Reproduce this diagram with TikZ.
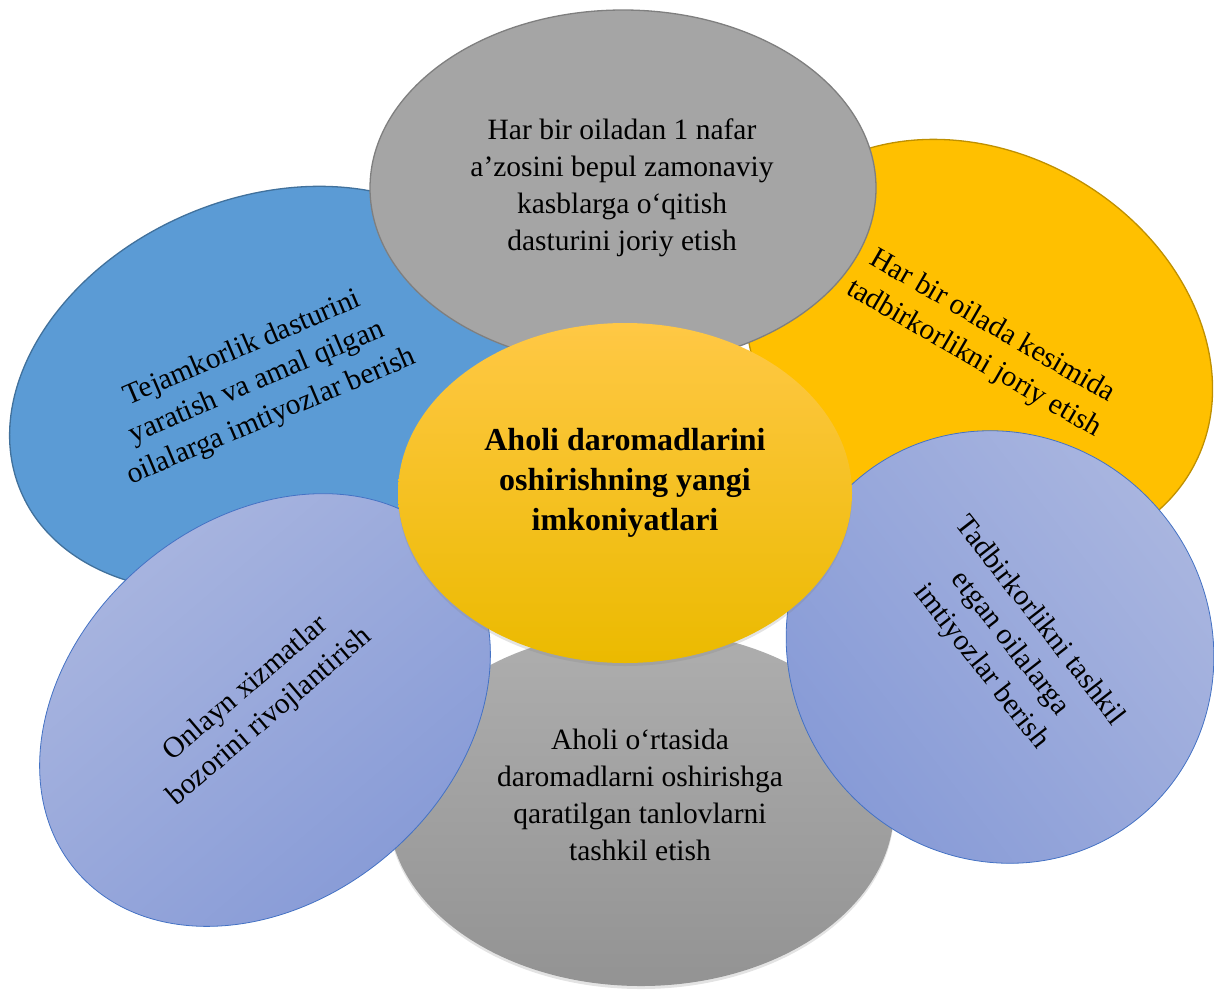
\documentclass[tikz,border=0pt]{standalone}
\usepackage{fontspec}
\setmainfont{Liberation Serif}
\usetikzlibrary{shapes.geometric,shadows}
\definecolor{blueL}{HTML}{5B9BD5}
\definecolor{blueLd}{HTML}{41719C}
\definecolor{orng}{HTML}{FFC000}
\definecolor{orngd}{HTML}{BF9000}
\definecolor{grayT}{HTML}{A5A5A5}
\definecolor{grayTd}{HTML}{7F7F7F}
\definecolor{grayBa}{HTML}{AEAEAE}
\definecolor{grayBb}{HTML}{939393}
\definecolor{lavA}{HTML}{ABB7E0}
\definecolor{lavB}{HTML}{8599D6}
\definecolor{lavD}{HTML}{4472C4}
\definecolor{ctrA}{HTML}{FFC845}
\definecolor{ctrB}{HTML}{EBBA00}
\begin{document}
\begin{tikzpicture}[x=1pt,y=-1pt,
  bubble/.style={ellipse, inner sep=0pt, outer sep=0pt},
  txt/.style={align=center, inner sep=0pt, font=\fontsize{29.5}{37}\selectfont},
  softshadow/.style={drop shadow={opacity=0.22, shadow xshift=0pt, shadow yshift=-3pt}}]
\useasboundingbox (0,0) rectangle (1214,989);

% left blue
\node[bubble, rotate=23, minimum width=524pt, minimum height=380pt,
      fill=blueL, draw=blueLd, line width=1.3pt] (lb) at (262,389) {};
\node[txt, rotate=23] (lbt) at (257,383) {Tejamkorlik dasturini\\yaratish va amal qilgan\\oilalarga imtiyozlar berish};

% right orange
\node[bubble, rotate=-30, minimum width=490pt, minimum height=390pt,
      fill=orng, draw=orngd, line width=1.3pt] (ro) at (979,348) {};
\node[txt, rotate=-30] (rot) at (983,343) {Har bir oilada kesimida\\tadbirkorlikni joriy etish};

% top gray
\node[bubble, minimum width=506pt, minimum height=356pt,
      fill=grayT, draw=grayTd, line width=1.3pt] (tg) at (623,188) {};
\node[txt] (tgt) at (622,188) {Har bir oiladan 1 nafar\\a’zosini bepul zamonaviy\\kasblarga o‘qitish\\dasturini joriy etish};

% bottom gray
\node[bubble, softshadow, minimum width=506pt, minimum height=356pt,
      top color=grayBa, bottom color=grayBb] (bg) at (641,808) {};
\node[txt] (bgt) at (640,795) {Aholi o‘rtasida\\daromadlarni oshirishga\\qaratilgan tanlovlarni\\tashkil etish};

% lower left lavender
\node[bubble, rotate=40.5, minimum width=496pt, minimum height=380pt,
      top color=lavA, bottom color=lavB, shading angle=40.5,
      draw=lavD, line width=0.8pt] (ll) at (265,710) {};
\node[txt, rotate=40.5] (llt) at (258,703) {Onlayn xizmatlar\\bozorini rivojlantirish};

% lower right lavender
\node[bubble, rotate=-52, minimum width=440pt, minimum height=420pt,
      top color=lavA, bottom color=lavB, shading angle=-52,
      draw=lavD, line width=0.8pt] (lr) at (1000,647) {};
\node[txt, rotate=-52] (lrt) at (1010,644) {Tadbirkorlikni tashkil\\etgan oilalarga\\imtiyozlar berish};

% centre
\node[bubble, softshadow, minimum width=454pt, minimum height=340pt,
      top color=ctrA, bottom color=ctrB] (c) at (625,493) {};
\node[align=center, inner sep=0pt, font=\bfseries\fontsize{32}{40}\selectfont] (ct) at (625,483)
  {Aholi daromadlarini\\oshirishning yangi\\imkoniyatlari};
\end{tikzpicture}
\end{document}
